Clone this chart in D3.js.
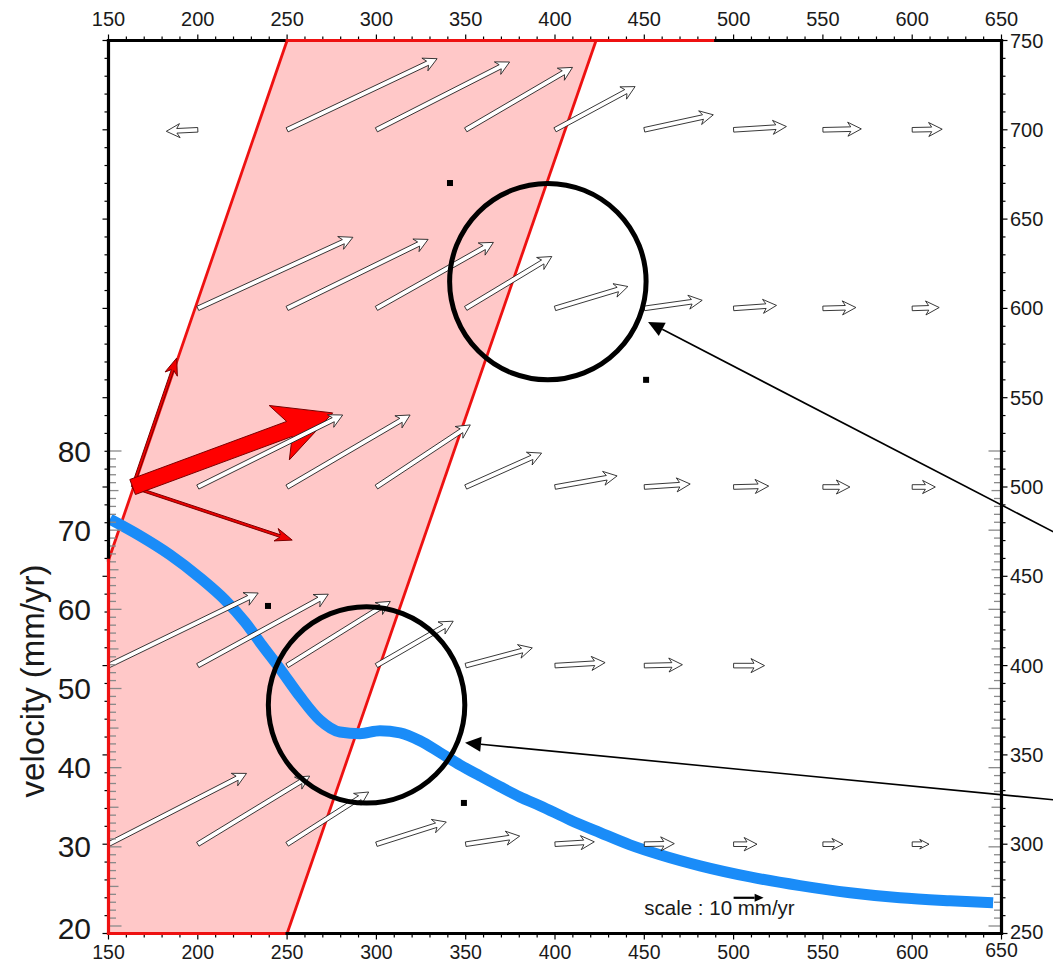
<!DOCTYPE html>
<html><head><meta charset="utf-8">
<script src="https://cdn.jsdelivr.net/npm/d3@7"></script>
<style>body{margin:0;background:#fff;} svg{display:block;font-family:"Liberation Sans",Arial,sans-serif;}</style>
</head><body><svg id="chart" width="1053" height="965"></svg>
<script>
// ---------- data ----------
const xTickLabels = [150,200,250,300,350,400,450,500,550,600,650];
const yTickLabels = [250,300,350,400,450,500,550,600,650,700,750];
const velTickLabels = [20,30,40,50,60,70,80];

// velocity profile (distance, mm/yr)
const profileX = [150.8,167.6,184.4,201.2,215.2,226.4,235.9,246.0,257.2,268.4,279.6,290.8,302.0,313.2,324.4,335.6,346.8,358.0,369.2,380.4,391.6,408.4,425.2,442.0,458.8,481.2,509.2,537.2,565.2,593.2,621.2,645.3];
const profileV = [71.4,69.3,66.9,64.0,61.2,58.4,55.5,52.5,49.0,46.0,44.5,44.3,44.65,44.4,43.4,41.9,40.35,38.96,37.6,36.3,35.2,33.4,31.8,30.25,29.0,27.6,26.2,25.1,24.2,23.56,23.18,22.93];

// velocity vectors per row: [x, east (mm/yr), north (mm/yr)]
const row700 = [[200,-10.5,-0.5],[250,50,23.7],[300,44.4,22.6],[350,35.6,20.8],[400,26.7,14.4],[450,23,5],[500,17.6,1.1],[550,12.8,0.3],[600,10,0.2]];
const row600 = [[200,51.7,23.7],[250,47,23],[300,39,22],[350,28.7,17.3],[400,24.3,7.3],[450,19.3,2.7],[500,14.3,1],[550,11,0.3],[600,9,0.3]];
const row500 = [[200,48.3,24],[250,41,24],[300,31.3,20.7],[350,25.3,11.3],[400,20.7,3.7],[450,15.3,1],[500,11.7,0.3],[550,9,0],[600,7.7,0]];
const row400 = [[150,49.9,24.2],[200,43.5,23.8],[250,34.4,21.4],[300,25.6,14.8],[350,22.2,5.9],[400,16.7,1],[450,12.7,0.3],[500,10.3,0]];
const row300 = [[150,46,23.6],[200,37.3,22.7],[250,27.2,17.4],[300,23.3,7.4],[350,18,2.7],[400,13.1,0.8],[450,10,0.2],[500,7.8,0],[550,6.7,0],[600,5.6,0]];
const rowY = [700,600,500,400,300];

// shaded zone polygon (distance, distance)
const zoneX = [250,423,250,150,150];
const zoneY = [750,750,250,250,459];

// slip vectors at the zone edge
const slipOrigin = [163.5,500];
const slipParallel = [14.7,43];
const slipNormal = [53.2,-17.7];
const slipTotal = [66.7,24.7];

// circles [cx, cy, r]
const circles = [[396,615,55],[294.5,378,55]];
// small square markers
const squaresX = [341.2,451,239.3,349];
const squaresY = [670.2,560,433.4,323.1];
// pointer lines [fromX, fromY, toX, toY]
const pointers = [[679.8,474.5,452.1,592.4],[679.8,324.8,349.6,356.8]];
// scale
const scaleVec = 10;
const scalePos = [500,270];
const scaleText = "scale : 10 mm/yr";
const scaleTextPos = [450,260.2];

// ---------- scales ----------
const svg = d3.select("#chart");
const L=108.5,R=1001.5,T=40.5,B=933.5;
const x = d3.scaleLinear().domain([150,650]).range([L,R]);
const y = d3.scaleLinear().domain([250,750]).range([B,T]);
const v = d3.scaleLinear().domain([20,80]).range([926,451]);
const mm = d3.scaleLinear().domain([0,10]).range([0,30]); // px per mm/yr

function arrowPts(x0,y0,x1,y1,shaftW,headL,headW,notch,ratio){
  const dx=x1-x0, dy=y1-y0, Ln=Math.hypot(dx,dy);
  const ux=dx/Ln, uy=dy/Ln, px=-uy, py=ux;
  const hl=Math.min(headL, Ln*ratio);
  const hw=headW*(hl/headL);
  const sw=shaftW/2;
  const wing=Ln-hl, neck=Ln-hl*(1-notch);
  const P=(a,b)=>[x0+ux*a+px*b, y0+uy*a+py*b];
  return [P(0,sw),P(neck,sw),P(wing,hw),P(Ln,0),P(wing,-hw),P(neck,-sw),P(0,-sw)];
}
const line = d3.line();

// zone fill
svg.append("path")
  .attr("d", line(zoneX.map((d,i)=>[x(d),y(zoneY[i])])) + "Z")
  .attr("fill","#ffc8c8").attr("stroke","none");
// zone diagonal boundaries
svg.append("path").attr("d", line([[x(zoneX[4]),y(zoneY[4])],[x(zoneX[0]),y(zoneY[0])]]))
  .attr("stroke","#ee1111").attr("stroke-width",2.8).attr("fill","none");
svg.append("path").attr("d", line([[x(zoneX[2]),y(zoneY[2])],[x(zoneX[1]),y(zoneY[1])]]))
  .attr("stroke","#ee1111").attr("stroke-width",2.8).attr("fill","none");

// thin slip component arrows
const ox=x(slipOrigin[0]), oy=y(slipOrigin[1]);
[slipParallel, slipNormal].forEach(c=>{
  svg.append("path")
    .attr("d", line(arrowPts(ox,oy,ox+mm(c[0]),oy-mm(c[1]),2.6,17,6.5,0.25,0.5))+"Z")
    .attr("fill","#ee0000").attr("stroke","#7a0000").attr("stroke-width",1);
});
// big slip arrow
svg.append("path")
  .attr("d", line(arrowPts(ox,oy,ox+mm(slipTotal[0]),oy-mm(slipTotal[1]),16,57,29,0.19,0.5))+"Z")
  .attr("fill","#ff0000").attr("stroke","#7a0000").attr("stroke-width",1);

// velocity profile
svg.append("path")
  .attr("d", d3.line().curve(d3.curveMonotoneX)(profileX.map((d,i)=>[x(d),v(profileV[i])])))
  .attr("fill","none").attr("stroke","#1a8cf8").attr("stroke-width",11).attr("stroke-linecap","butt");

// white vectors
[row700,row600,row500,row400,row300].forEach((row,ri)=>{
  row.forEach(a=>{
    const x0=x(a[0]), y0=y(rowY[ri]);
    svg.append("path")
      .attr("d", line(arrowPts(x0,y0,x0+mm(a[1]),y0-mm(a[2]),4.6,13.5,7,0.22,0.55))+"Z")
      .attr("fill","#fff").attr("stroke","#222").attr("stroke-width",0.9).attr("stroke-linejoin","miter");
  });
});

// squares
squaresX.forEach((d,i)=>{
  svg.append("rect").attr("x",x(d)-3).attr("y",y(squaresY[i])-3).attr("width",6).attr("height",6).attr("fill","#000");
});
// circles
circles.forEach(c=>{
  svg.append("ellipse").attr("cx",x(c[0])).attr("cy",y(c[1]))
    .attr("rx",x(c[0]+c[2])-x(c[0])).attr("ry",y(c[1])-y(c[1]+c[2]))
    .attr("fill","none").attr("stroke","#000").attr("stroke-width",5);
});

// ---------- frame ----------
function seg(a,b,c,d,col){
  svg.append("line").attr("x1",a).attr("y1",b).attr("x2",c).attr("y2",d)
    .attr("stroke",col).attr("stroke-width",3.2).attr("stroke-linecap","square");
}
// inner velocity ticks (left and right)
const velMinor = d3.range(20,81,1);
const tg = svg.append("g").attr("stroke","#8a8a8a").attr("stroke-width",1.3);
velMinor.forEach(t=>{
  const len = t%10===0?13:(t%5===0?10:7.5);
  tg.append("line").attr("x1",L).attr("x2",L+len).attr("y1",v(t)).attr("y2",v(t));
  tg.append("line").attr("x1",R).attr("x2",R-len).attr("y1",v(t)).attr("y2",v(t));
});
// outer km ticks
const kmTicks = d3.range(150,651,10);
const kg = svg.append("g").attr("stroke","#000").attr("stroke-width",1.2);
kmTicks.forEach(t=>{
  const len = t%50===0?6:4;
  kg.append("line").attr("x1",x(t)).attr("x2",x(t)).attr("y1",T).attr("y2",T-len);
  kg.append("line").attr("x1",x(t)).attr("x2",x(t)).attr("y1",B).attr("y2",B+len);
});
d3.range(250,751,10).forEach(t=>{
  const len = t%50===0?6:4;
  kg.append("line").attr("x1",L).attr("x2",L-len).attr("y1",y(t)).attr("y2",y(t));
  kg.append("line").attr("x1",R).attr("x2",R+len).attr("y1",y(t)).attr("y2",y(t));
});
seg(x(150),y(750),x(250),y(750),"#000");
seg(x(250),y(750),x(490),y(750),"#ee1111");
seg(x(490),y(750),x(650),y(750),"#000");
seg(x(150),y(250),x(250),y(250),"#ee1111");
seg(x(250),y(250),x(650),y(250),"#000");
seg(x(150),y(750),x(150),y(459),"#000");
seg(x(150),y(459),x(150),y(250),"#ee1111");
seg(x(650),y(750),x(650),y(250),"#000");

// ---------- labels ----------
const lab = svg.append("g").attr("fill","#1a1a1a");
xTickLabels.forEach(t=>{
  lab.append("text").attr("x",x(t)).attr("y",26).attr("text-anchor","middle").attr("font-size",20).text(t);
  lab.append("text").attr("x",x(t)).attr("y",t===650?957:959).attr("text-anchor","middle").attr("font-size",19.5).text(t);
});
yTickLabels.forEach(t=>{
  lab.append("text").attr("x",1010).attr("y",y(t)+(t===250?-2:0)).attr("dy","0.35em").attr("font-size",20).text(t);
});
velTickLabels.forEach(t=>{
  lab.append("text").attr("x",91).attr("y",v(t)+(t===20?2:0)).attr("dy","0.35em").attr("text-anchor","end").attr("font-size",30).text(t);
});
lab.append("text").attr("transform","translate(44,681) rotate(-90)").attr("text-anchor","middle").attr("font-size",33).text("velocity (mm/yr)");

// pointers
pointers.forEach(p=>{
  const x0=x(p[0]),y0=y(p[1]),x1=x(p[2]),y1=y(p[3]);
  const pts=arrowPts(x0,y0,x1,y1,1.5,16,7.5,0,0.5);
  svg.append("line").attr("x1",x0).attr("y1",y0).attr("x2",pts[2][0]*0.5+pts[4][0]*0.5).attr("y2",pts[2][1]*0.5+pts[4][1]*0.5)
    .attr("stroke","#000").attr("stroke-width",1.6);
  svg.append("path").attr("d",line([pts[2],pts[3],pts[4]])+"Z").attr("fill","#000");
});

// scale
const sx=x(scalePos[0]), sy=y(scalePos[1]);
const sp=arrowPts(sx,sy,sx+mm(scaleVec),sy,1,9,4,0,0.5);
svg.append("line").attr("x1",sx).attr("y1",sy).attr("x2",sp[2][0]).attr("y2",sy).attr("stroke","#000").attr("stroke-width",2.2);
svg.append("path").attr("d",line([sp[2],sp[3],sp[4]])+"Z").attr("fill","#000");
svg.append("text").attr("x",x(scaleTextPos[0])).attr("y",y(scaleTextPos[1])).attr("font-size",20.5).attr("fill","#1a1a1a").text(scaleText);
</script></body></html>
